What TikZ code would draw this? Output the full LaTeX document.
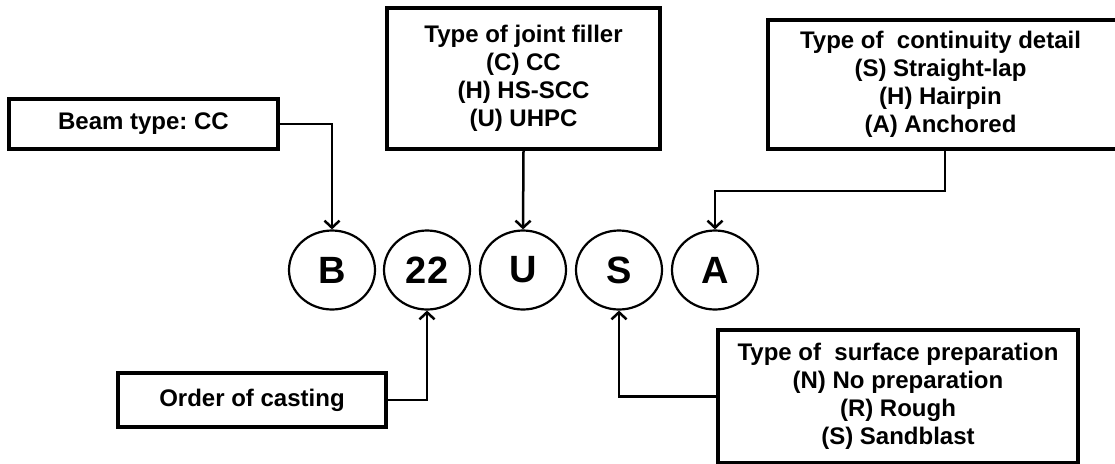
\documentclass[tikz,border=0pt]{standalone}
\usepackage{fontspec}
\setmainfont{Liberation Sans}
\usepackage{tikz}
\usetikzlibrary{arrows.meta,shapes.geometric}
\frenchspacing

\begin{document}
\begin{tikzpicture}[
  x=1pt, y=-1pt,
  every node/.style={font=\bfseries\fontsize{24}{28}\selectfont},
  box/.style={draw, line width=3.5pt, align=center, inner sep=0pt},
  code/.style={draw, ellipse, line width=2.2pt, minimum width=86pt, minimum height=79pt,
    inner sep=0pt, font=\bfseries\fontsize{38}{40}\selectfont},
  flow/.style={-{Straight Barb[length=7pt,width=15pt]}, line width=2.5pt}
]
\useasboundingbox (0,0) rectangle (1115,463);

% code letters
\node[code] (cB)  at (332,270) {B};
\node[code] (c22) at (427,270) {22};
\node[code] (cU)  at (523,270) {U};
\node[code] (cS)  at (619,270) {S};
\node[code] (cA)  at (715,270) {A};

% explanation boxes
\node[box, minimum width=269pt, minimum height=50pt] (beam) at (143.5,124) {Beam type: CC};
\node[box, minimum width=268pt, minimum height=54pt] (order) at (252,400) {Order of casting};
\node[box, minimum width=273pt, minimum height=141pt] (filler) at (523.5,78.5) {Type of joint filler\\
(C) CC\\
(H) HS-SCC\\
(U) UHPC};
\node[box, minimum width=354pt, minimum height=129pt] (detail) at (945,84.5) {\hspace*{-9pt}Type of~ continuity detail\\
\hspace*{-9pt}(S) Straight-lap\\
\hspace*{-9pt}(H) Hairpin\\
\hspace*{-9pt}(A) Anchored};
\node[box, minimum width=360pt, minimum height=133pt] (surface) at (898,396.5) {Type of~ surface preparation\\
(N) No preparation\\
(R) Rough\\
(S) Sandblast};

\draw[flow] (beam.east) -| (cB.north);
\draw[flow] (filler.south) -- (cU.north);
\draw[flow] (detail.south) -- ++(0,40) -| (cA.north);
\draw[flow] (order.east) -| (c22.south);
\draw[flow] (surface.west) -| (cS.south);

\end{tikzpicture}
\end{document}
